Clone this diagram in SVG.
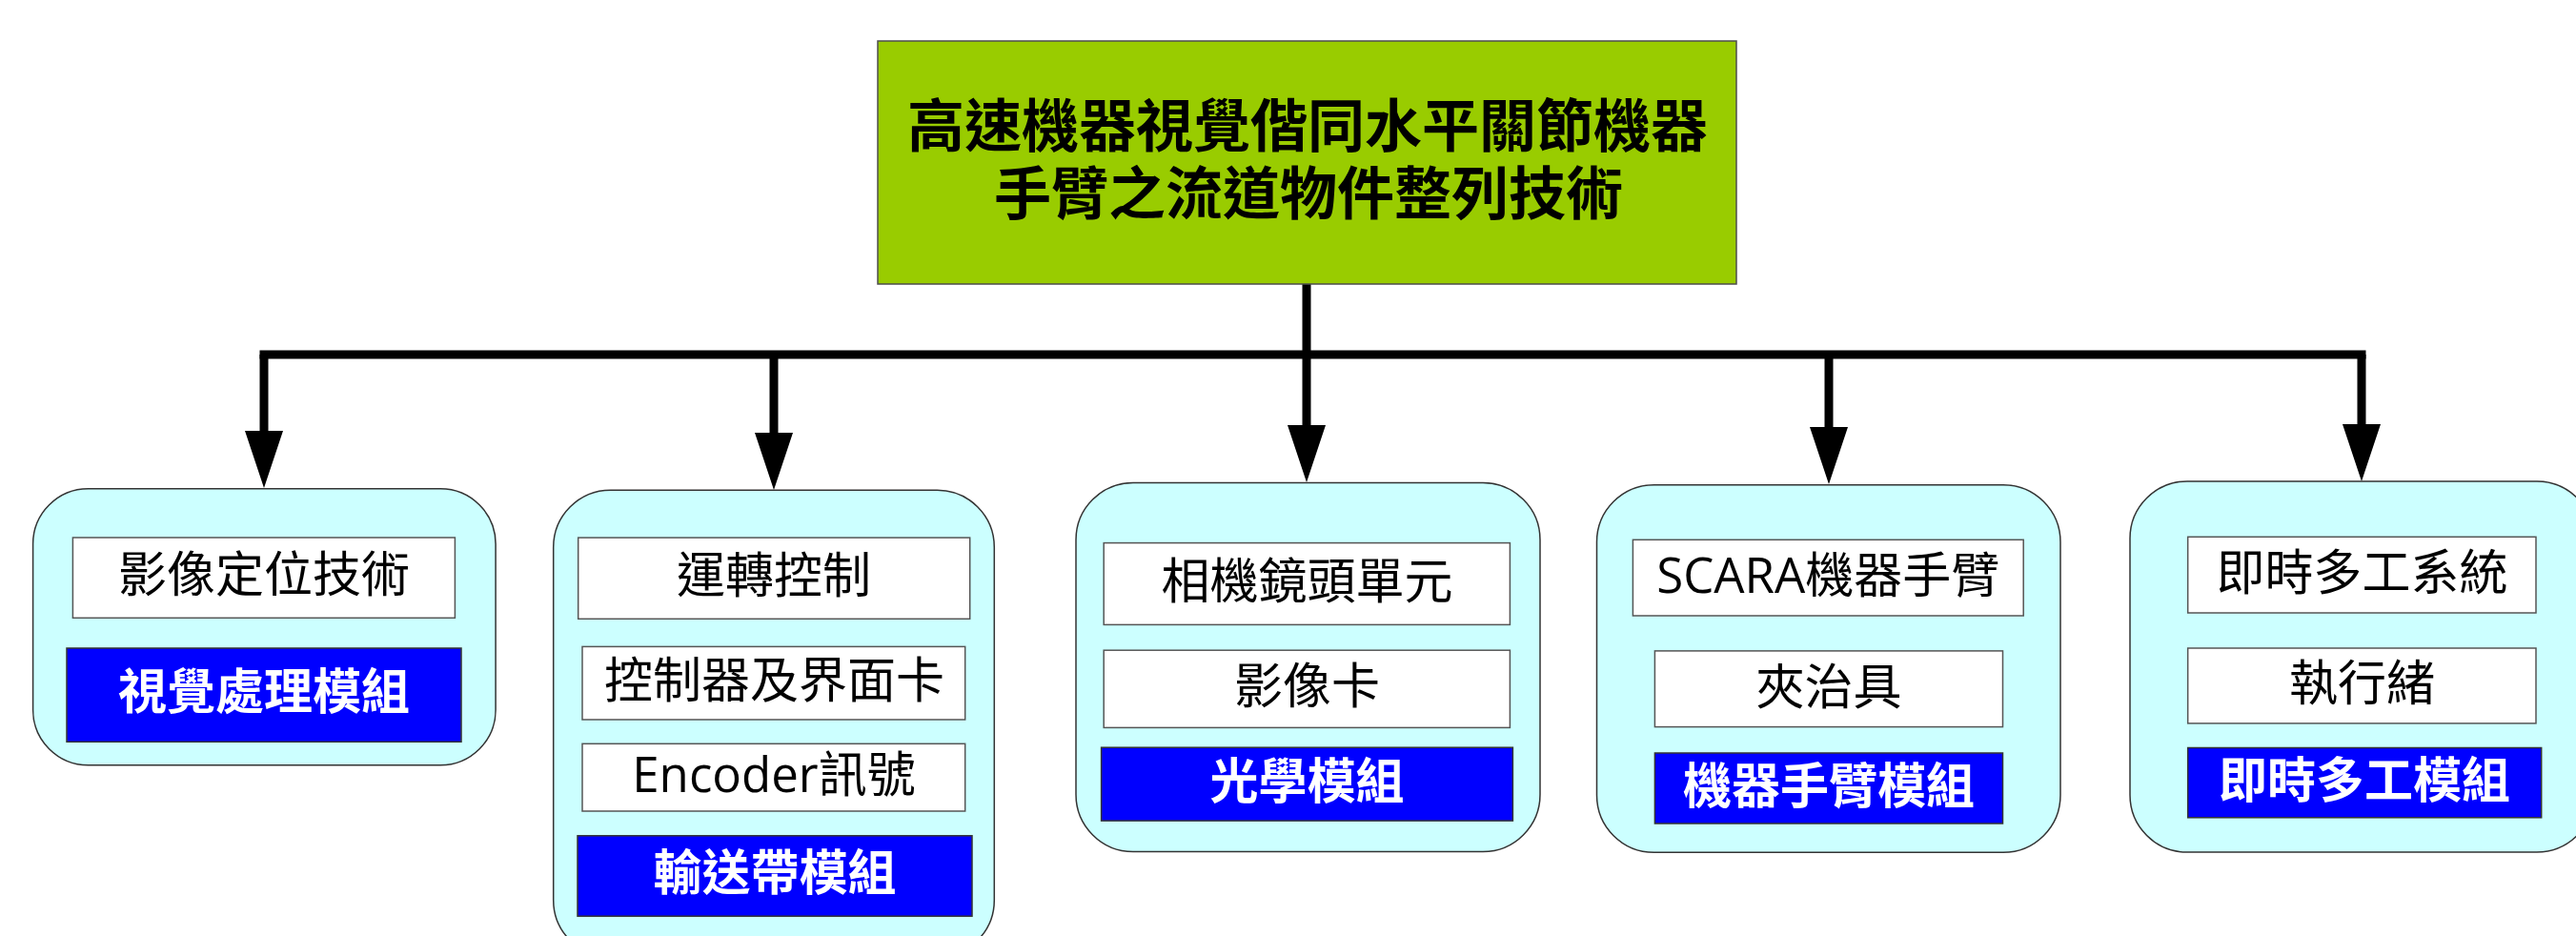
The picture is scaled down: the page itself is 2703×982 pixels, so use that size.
<svg xmlns="http://www.w3.org/2000/svg" width="2703" height="982" viewBox="0 0 2703 982">
<style>
.node{fill:#CCFFFF;stroke:#333333;stroke-width:1.5}
.item{fill:#FFFFFF;stroke:#555555;stroke-width:1.5}
.mod{fill:#0000FF;stroke:#333333;stroke-width:1.5}
.t{font-family:"Open Sans","Noto Sans CJK TC",sans-serif;font-size:51px;fill:#000000;text-anchor:middle}
.tm{font-family:"Noto Sans CJK TC","Open Sans",sans-serif;font-size:51px;font-weight:bold;fill:#FFFFFF;text-anchor:middle}
.title{font-family:"Noto Sans CJK TC",sans-serif;font-size:60px;font-weight:bold;fill:#000000;text-anchor:middle}
.wire{fill:none;stroke:#000000;stroke-width:9}
</style>
<defs>
<marker id="arrow" viewBox="0 0 60 40" markerWidth="60" markerHeight="40" refX="10" refY="20" orient="auto" markerUnits="userSpaceOnUse">
<path d="M0,0 L60,20 L0,40 z" fill="#000000"/>
</marker>
</defs>
<rect width="2703" height="982" fill="#FFFFFF"/>

<g id="connectors">
<path class="wire" d="M1371,298 V372"/>
<path class="wire" d="M277,372 H2478" stroke-linecap="square"/>
<path class="wire" d="M277,372 V462" marker-end="url(#arrow)"/>
<path class="wire" d="M812,372 V464" marker-end="url(#arrow)"/>
<path class="wire" d="M1371,372 V456" marker-end="url(#arrow)"/>
<path class="wire" d="M1919,372 V458" marker-end="url(#arrow)"/>
<path class="wire" d="M2478,372 V455" marker-end="url(#arrow)"/>
</g>

<g id="root">
<rect x="921" y="43" width="901" height="255" fill="#99CC00" stroke="#4D4D4D" stroke-width="1.5"/>
<text class="title"><tspan x="1372" y="154">高速機器視覺偕同水平關節機器</tspan><tspan x="1373" y="225">手臂之流道物件整列技術</tspan></text>
</g>

<g id="node-vision">
<rect class="node" x="34.6" y="512.7" width="485.5" height="290" rx="58" ry="58"/>
<rect class="item" x="76.4" y="564" width="401" height="84.3"/>
<text class="t" x="277" y="621">影像定位技術</text>
<rect class="mod" x="70" y="680" width="414" height="98.3"/>
<text class="tm" x="277" y="744">視覺處理模組</text>
</g>

<g id="node-conveyor">
<rect class="node" x="580.7" y="514.2" width="462.6" height="490" rx="60" ry="60"/>
<rect class="item" x="606.7" y="564.1" width="411" height="85.2"/>
<text class="t" x="812" y="621.5">運轉控制</text>
<rect class="item" x="611" y="678.4" width="401.7" height="76.6"/>
<text class="t" x="812.5" y="732">控制器及界面卡</text>
<rect class="item" x="611" y="780.3" width="401.7" height="70.7"/>
<text class="t" x="812" y="831">Encoder訊號</text>
<rect class="mod" x="606" y="876.8" width="414" height="84.4"/>
<text class="tm" x="813" y="934">輸送帶模組</text>
</g>

<g id="node-optics">
<rect class="node" x="1129" y="506.5" width="487" height="387" rx="60" ry="60"/>
<rect class="item" x="1158.2" y="569.6" width="426.2" height="85.8"/>
<text class="t" x="1371.5" y="627.5">相機鏡頭單元</text>
<rect class="item" x="1158.2" y="682.2" width="426.2" height="81.2"/>
<text class="t" x="1371.5" y="737.5">影像卡</text>
<rect class="mod" x="1155.6" y="784.2" width="431.8" height="76.9"/>
<text class="tm" x="1371.5" y="838">光學模組</text>
</g>

<g id="node-robot">
<rect class="node" x="1675.5" y="508.7" width="486.5" height="385.6" rx="60" ry="60"/>
<rect class="item" x="1713.4" y="566.3" width="409.8" height="79.7"/>
<text class="t" x="1918.3" y="622.4">SCARA機器手臂</text>
<rect class="item" x="1736.4" y="682.9" width="365.1" height="79.7"/>
<text class="t" x="1919" y="739">夾治具</text>
<rect class="mod" x="1736.4" y="790" width="365.1" height="74"/>
<text class="tm" x="1919" y="843">機器手臂模組</text>
</g>

<g id="node-rtos">
<rect class="node" x="2235" y="505" width="487" height="389" rx="60" ry="60"/>
<rect class="item" x="2295.7" y="563.3" width="365.3" height="79.7"/>
<text class="t" x="2478.4" y="619.4">即時多工系統</text>
<rect class="item" x="2295.7" y="680" width="365.3" height="78.9"/>
<text class="t" x="2478.4" y="735">執行緒</text>
<rect class="mod" x="2295.7" y="784.5" width="371" height="73.3"/>
<text class="tm" x="2481" y="837.4">即時多工模組</text>
</g>
</svg>
